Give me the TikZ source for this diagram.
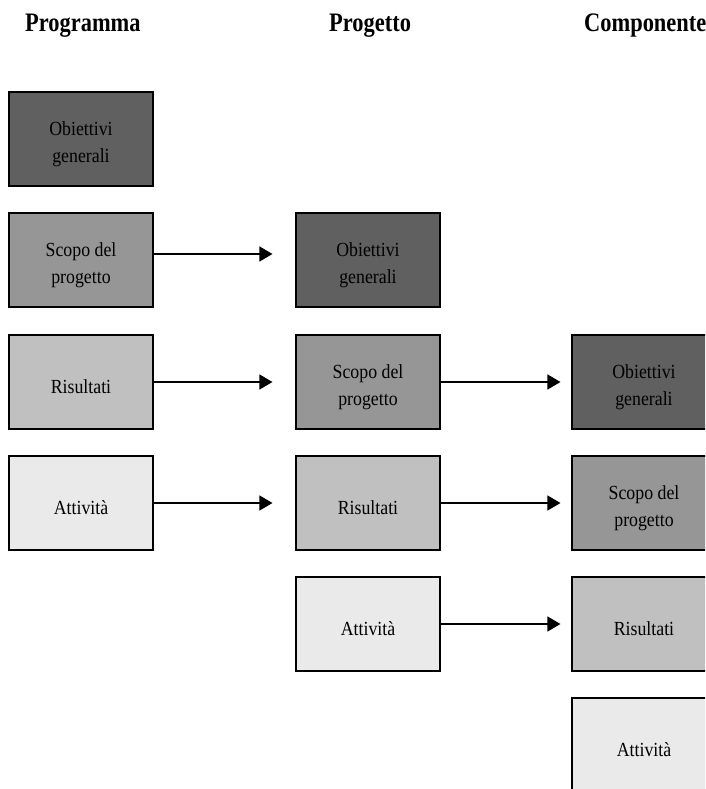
\documentclass[tikz,border=0pt]{standalone}
\usepackage{fontspec}
\usetikzlibrary{arrows.meta}
\newfontfamily\boxfont[FakeStretch=0.89]{Liberation Serif}
\newfontfamily\headfont[FakeStretch=0.84]{Liberation Serif}
\definecolor{objfill}{HTML}{606060}
\definecolor{scopofill}{HTML}{969696}
\definecolor{risfill}{HTML}{C0C0C0}
\definecolor{attfill}{HTML}{EAEAEA}
\begin{document}
\begin{tikzpicture}[x=1pt,y=-1pt,
  card/.style={draw=black, line width=1.1pt, minimum width=144pt, minimum height=94pt, inner sep=0pt},
  cardtext/.style={font=\boxfont\fontsize{20}{27}\selectfont, align=center, yshift=-5pt, inner sep=0pt},
  obj/.style={card, fill=objfill, label={[cardtext]center:{Obiettivi\\generali}}},
  scopo/.style={card, fill=scopofill, label={[cardtext]center:{Scopo del\\progetto}}},
  ris/.style={card, fill=risfill, label={[cardtext]center:Risultati}},
  att/.style={card, fill=attfill, label={[cardtext]center:Attività}},
  head/.style={font=\headfont\bfseries\fontsize{26.7}{30}\selectfont, anchor=base west, inner sep=0pt},
  link/.style={line width=1.2pt, -{Triangle[length=13pt,width=15pt]}}]
\useasboundingbox (0,0) rectangle (705,789);
\clip (0,0) rectangle (705,789);

% column headings
\node[head] (hprog) at (25,32) {Programma};
\node[head] (hproj) at (329,32) {Progetto};
\node[head] (hcomp) at (584,32) {Componente};

% Programma
\node[obj]   (a1) at (81,139) {};
\node[scopo] (a2) at (81,260) {};
\node[ris]   (a3) at (81,382) {};
\node[att]   (a4) at (81,503) {};

% Progetto
\node[obj]   (b1) at (368,260) {};
\node[scopo] (b2) at (368,382) {};
\node[ris]   (b3) at (368,503) {};
\node[att]   (b4) at (368,624) {};

% Componente
\node[obj]   (c1) at (644,382) {};
\node[scopo] (c2) at (644,503) {};
\node[ris]   (c3) at (644,624) {};
\node[att]   (c4) at (644,745) {};

% links between levels
\draw[link] ([yshift=6pt]a2.east) -- ([yshift=6pt,xshift=-23pt]b1.west);
\draw[link] (a3.east) -- ([xshift=-23pt]b2.west);
\draw[link] (a4.east) -- ([xshift=-23pt]b3.west);
\draw[link] (b2.east) -- ([xshift=-11pt]c1.west);
\draw[link] (b3.east) -- ([xshift=-11pt]c2.west);
\draw[link] (b4.east) -- ([xshift=-11pt]c3.west);
\end{tikzpicture}
\end{document}
